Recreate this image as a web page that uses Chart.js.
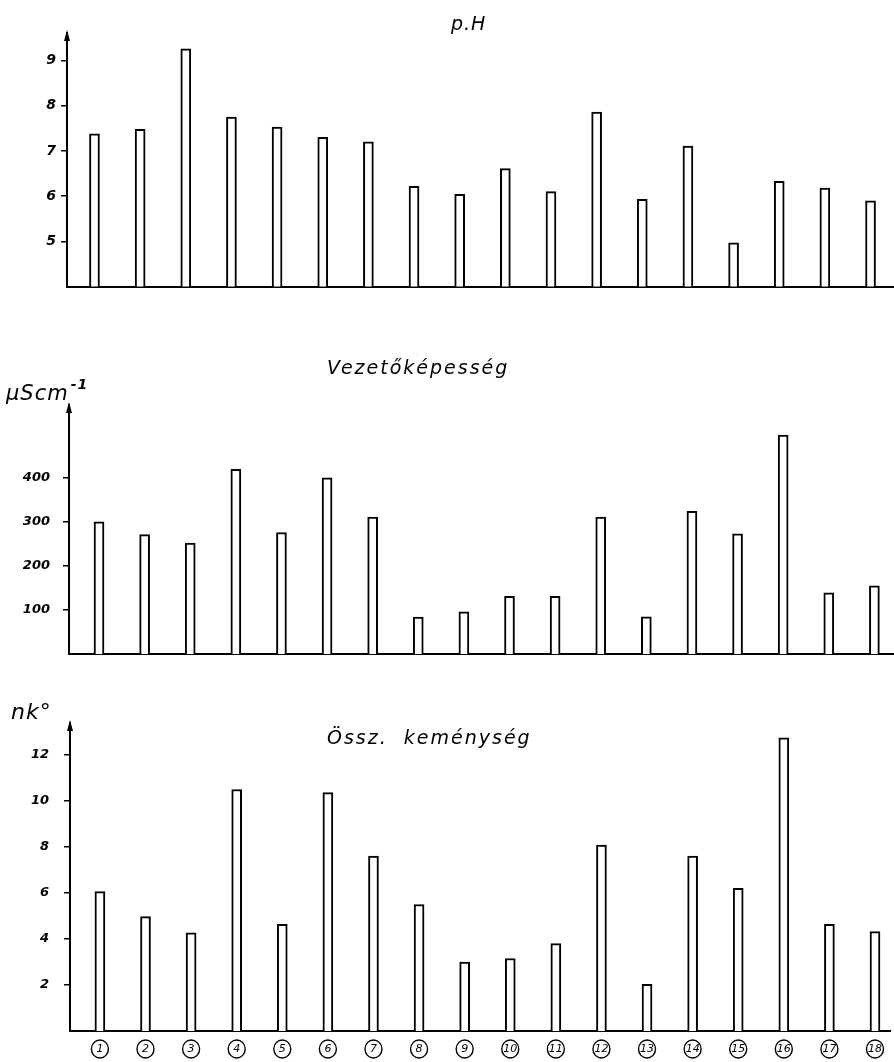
<!DOCTYPE html>
<html>
<head>
<meta charset="utf-8">
<script src="https://cdn.jsdelivr.net/npm/chart.js@4.4.1/dist/chart.umd.min.js"></script>
<style>
  html, body { margin:0; padding:0; background:#fff; }
  #wrap { position:relative; width:894px; height:1062px; overflow:hidden; background:#fff; }
  canvas { position:absolute; left:0; }
  .t { position:absolute; font-family:"DejaVu Sans", "Liberation Sans", sans-serif; font-style:italic; color:#000; white-space:nowrap; }
</style>
</head>
<body>
<div id="wrap">
  <canvas id="cPH" width="894" height="300" style="top:0px"></canvas>
  <canvas id="cCond" width="894" height="345" style="top:330px"></canvas>
  <canvas id="cHard" width="894" height="372" style="top:690px"></canvas>
  <div class="t" style="left:451px; top:12px; font-size:19px; letter-spacing:1px;">p.H</div>
  <div class="t" style="left:327px; top:356px; font-size:19px; letter-spacing:2px;">Vezetőképesség</div>
  <div class="t" style="left:6px; top:379px; font-size:21px; letter-spacing:1px;">µScm<sup style="font-size:14px; font-weight:bold; position:relative; top:-3px; margin-left:2px;">-1</sup></div>
  <div class="t" style="left:11px; top:699px; font-size:22px; letter-spacing:1px;">nk°</div>
  <div class="t" style="left:327px; top:726px; font-size:19px; letter-spacing:2px;">Össz.&nbsp; keménység</div>
</div>
<script>
// Sample numbers (x categories)
const categories = [1,2,3,4,5,6,7,8,9,10,11,12,13,14,15,16,17,18];
const categoryLabels = ['1','2','3','4','5','6','7','8','9','10','11','12','13','14','15','16','17','18'];

// p.H
const phValues = [7.38,7.48,9.26,7.75,7.53,7.30,7.20,6.22,6.04,6.61,6.10,7.86,5.93,7.11,4.97,6.33,6.18,5.90];
const phTicks = [5,6,7,8,9];

// Vezetőképesség (µS/cm)
const condValues = [300,271,252,419,276,400,311,84,96,131,131,311,85,324,273,497,139,155];
const condTicks = [100,200,300,400];

// Össz. keménység (nk°)
const hardValues = [6.06,4.97,4.27,10.5,4.64,10.36,7.6,5.5,3.0,3.15,3.8,8.08,2.03,7.6,6.2,12.75,4.64,4.32];
const hardTicks = [2,4,6,8,10,12];

const fam = '"DejaVu Sans", "Liberation Sans", sans-serif';

const axisArrow = {
  id: 'axisArrow',
  afterDraw(chart) {
    const ctx = chart.ctx, a = chart.chartArea;
    ctx.save();
    ctx.fillStyle = '#000';
    ctx.beginPath();
    ctx.moveTo(a.left - 3, a.top + 8);
    ctx.lineTo(a.left, a.top - 3);
    ctx.lineTo(a.left + 3, a.top + 8);
    ctx.closePath();
    ctx.fill();
    ctx.restore();
  }
};

const circledLabels = {
  id: 'circledLabels',
  afterDraw(chart, args, opts) {
    if (!opts || !opts.enabled) return;
    const sx = chart.scales.x, ctx = chart.ctx;
    ctx.save();
    ctx.strokeStyle = '#000';
    ctx.lineWidth = 1.4;
    categories.forEach(v => {
      const px = sx.getPixelForValue(v);
      ctx.beginPath();
      ctx.ellipse(px, sx.top + opts.dy, 8.5, 9, 0, 0, Math.PI * 2);
      ctx.stroke();
    });
    ctx.restore();
  }
};

function makeChart(id, values, yTicks, cfg) {
  return new Chart(document.getElementById(id), {
    type: 'bar',
    data: {
      datasets: [{
        data: categories.map((c, i) => ({ x: c, y: values[i] })),
        backgroundColor: '#ffffff',
        borderColor: '#000000',
        borderWidth: 2,
        borderSkipped: 'start',
        barThickness: 10
      }]
    },
    plugins: [axisArrow, circledLabels],
    options: {
      responsive: false,
      animation: false,
      events: [],
      layout: { padding: { top: cfg.padTop, left: 0, right: 0, bottom: 0 } },
      plugins: {
        legend: { display: false },
        tooltip: { enabled: false },
        circledLabels: { enabled: cfg.showX, dy: 18 }
      },
      scales: {
        x: {
          type: 'linear',
          offset: false,
          min: cfg.xMin, max: cfg.xMax,
          afterBuildTicks: s => { s.ticks = categories.map(v => ({ value: v })); },
          afterFit: s => { s.height = cfg.xH; },
          grid: { display: true, offset: false, drawOnChartArea: false, drawTicks: false },
          border: { display: true, color: '#000', width: 2 },
          ticks: {
            display: cfg.showX,
            padding: 12,
            color: '#000',
            font: { family: fam, style: 'italic', size: 11 },
            maxRotation: 0,
            autoSkip: false,
            callback: (v) => categoryLabels[categories.indexOf(v)]
          }
        },
        y: {
          min: cfg.yMin, max: cfg.yMax,
          afterBuildTicks: s => { s.ticks = yTicks.map(v => ({ value: v })); },
          afterFit: s => { s.width = cfg.yW; },
          grid: { drawOnChartArea: false, drawTicks: true, tickLength: 6, color: '#000', lineWidth: 1.5 },
          border: { display: true, color: '#000', width: 2 },
          ticks: { padding: cfg.yPad, color: '#000', font: { family: fam, style: 'italic', weight: 'bold', size: cfg.yFont } }
        }
      }
    }
  });
}

makeChart('cPH', phValues, phTicks, {
  padTop: 33, xH: 10, yW: 67, yPad: 5, yMin: 4, yMax: 9.61, yFont: 14,
  xMin: 0.398, xMax: 18.514, showX: false
});
makeChart('cCond', condValues, condTicks, {
  padTop: 75, xH: 12, yW: 69, yPad: 13, yMin: 0, yMax: 565, yFont: 13,
  xMin: 0.342, xMax: 18.43, showX: false
});
makeChart('cHard', hardValues, hardTicks, {
  padTop: 33, xH: 31, yW: 70, yPad: 15, yMin: 0, yMax: 13.39, yFont: 13,
  xMin: 0.344, xMax: 18.35, showX: true
});
</script>
</body>
</html>
